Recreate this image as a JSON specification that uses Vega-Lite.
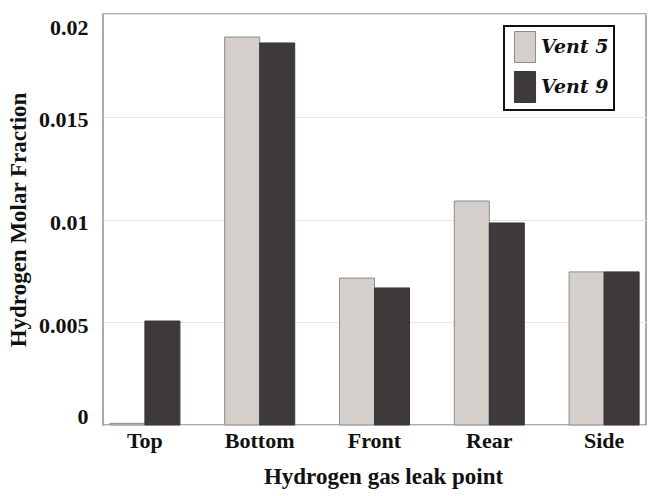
{
  "$schema": "https://vega.github.io/schema/vega-lite/v6.json",
  "width": 543,
  "height": 411,
  "padding": {"left": 103, "top": 14, "right": 6, "bottom": 71},
  "autosize": "none",
  "background": "white",
  "data": {
    "values": [
      {"point": "Top", "vent": "Vent 5", "fraction": 0.00008},
      {"point": "Top", "vent": "Vent 9", "fraction": 0.00506},
      {"point": "Bottom", "vent": "Vent 5", "fraction": 0.01888},
      {"point": "Bottom", "vent": "Vent 9", "fraction": 0.01859},
      {"point": "Front", "vent": "Vent 5", "fraction": 0.00715},
      {"point": "Front", "vent": "Vent 9", "fraction": 0.00667},
      {"point": "Rear", "vent": "Vent 5", "fraction": 0.0109},
      {"point": "Rear", "vent": "Vent 9", "fraction": 0.00983},
      {"point": "Side", "vent": "Vent 5", "fraction": 0.00745},
      {"point": "Side", "vent": "Vent 9", "fraction": 0.00745}
    ]
  },
  "mark": {"type": "bar", "strokeWidth": 1},
  "encoding": {
    "x": {
      "field": "point",
      "type": "nominal",
      "sort": ["Top", "Bottom", "Front", "Rear", "Side"],
      "title": "Hydrogen gas leak point",
      "scale": {"paddingInner": 0.39, "paddingOuter": 0.06},
      "axis": {
        "labelAngle": 0,
        "ticks": false,
        "domain": false,
        "labelPadding": 5,
        "titlePadding": 14,
        "titleX": 280
      }
    },
    "xOffset": {
      "field": "vent",
      "type": "nominal",
      "scale": {"paddingInner": 0, "paddingOuter": 0}
    },
    "y": {
      "field": "fraction",
      "type": "quantitative",
      "title": "Hydrogen Molar Fraction",
      "scale": {"domain": [0, 0.02], "nice": false},
      "axis": {
        "values": [0, 0.005, 0.01, 0.015, 0.02],
        "labelExpr": "toString(datum.value)",
        "ticks": false,
        "domain": false,
        "labelFlush": true,
        "labelFlushOffset": 0,
        "labelOffset": 3,
        "labelPadding": 15,
        "titlePadding": 8
      }
    },
    "color": {
      "field": "vent",
      "type": "nominal",
      "title": null,
      "scale": {"domain": ["Vent 5", "Vent 9"], "range": ["#d4cfca", "#3e3a3c"]},
      "legend": {
        "orient": "none",
        "legendX": 401,
        "legendY": 12,
        "padding": 5,
        "strokeColor": "#111111",
        "fillColor": "white",
        "symbolType": "M-0.68,-1H0.68V1H-0.68Z",
        "symbolSize": 961,
        "symbolStrokeWidth": 1,
        "symbolStrokeColor": "#8c8c8c",
        "rowPadding": 4,
        "labelOffset": 0,
        "labelFont": "DejaVu Serif",
        "labelFontStyle": "italic",
        "labelFontWeight": "bold",
        "labelFontSize": 19,
        "labelColor": "#111111",
        "encode": {
          "legend": {"update": {"strokeWidth": {"value": 2}}}
        }
      }
    },
    "stroke": {
      "field": "vent",
      "type": "nominal",
      "scale": {"domain": ["Vent 5", "Vent 9"], "range": ["#8c8c8c", "#3a3638"]},
      "legend": null
    }
  },
  "config": {
    "view": {"stroke": "#8f8f8f", "strokeWidth": 1.5},
    "axis": {
      "labelFont": "Liberation Serif",
      "labelFontWeight": "bold",
      "labelFontSize": 22,
      "labelColor": "#111111",
      "titleFont": "Liberation Serif",
      "titleFontWeight": "bold",
      "titleFontSize": 23,
      "titleColor": "#111111",
      "gridColor": "#e4e4e4",
      "gridWidth": 1
    },
    "axisX": {"grid": false}
  }
}
